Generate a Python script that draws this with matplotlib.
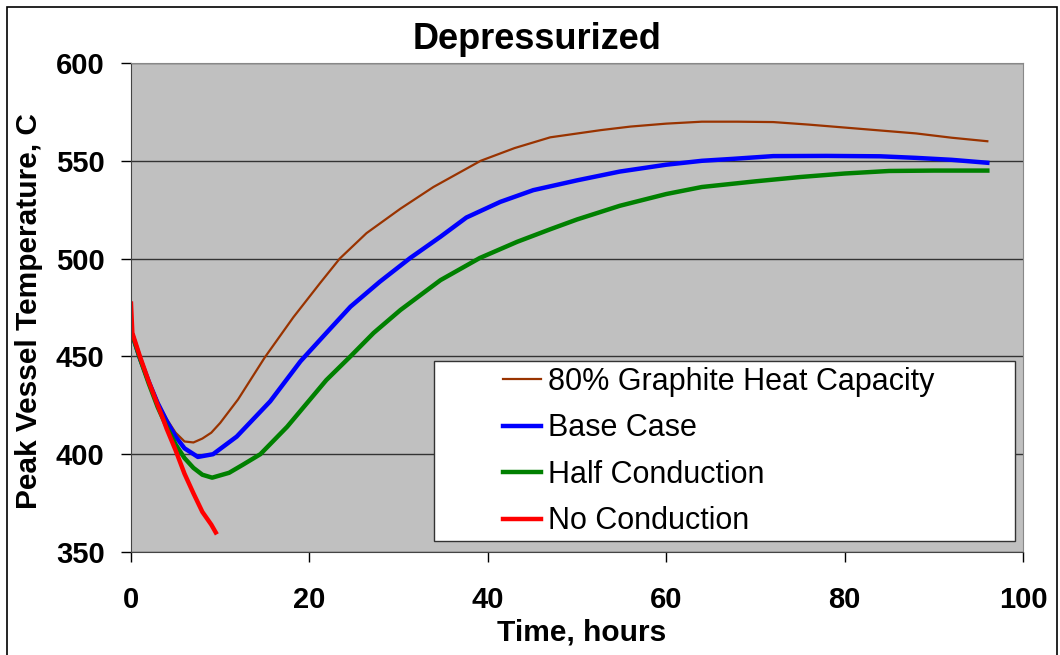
import matplotlib
matplotlib.use("Agg")
import matplotlib.pyplot as plt
from matplotlib.patches import Rectangle

plt.rcParams['font.family'] = ['Liberation Sans', 'DejaVu Sans']

# 80% graphite heat capacity
t_gr = [0, 1, 2, 3, 4, 5, 6, 7, 8, 9, 10, 12, 15, 18.2, 21.2, 23.4, 26.4, 30.2, 33.9, 39.2,
        43, 47, 52.7, 56, 60, 64, 68, 72, 76, 80, 84, 88, 92, 96]
v_gr = [463, 450, 438, 427, 418, 411, 406.5, 406, 408, 411, 416, 428, 449.5, 470, 487.5, 500, 513, 525.5, 536.6, 550,
        556.5, 562, 565.7, 567.5, 569, 570, 570, 569.8, 568.5, 567, 565.5, 564, 561.8, 560]

# base case
t_base = [0, 1, 2, 3, 4, 5, 6, 7.5, 9.2, 11.85, 15.6, 19, 21.8, 24.6, 27.9, 31.3, 34.7,
          37.6, 41.4, 45.1, 50, 54.8, 60, 64, 67.5, 72, 78, 84, 88, 92, 96]
v_base = [463, 449, 437, 426, 417, 409, 403, 398.6, 400, 409, 427, 447.5, 461.5, 475.4, 488.2, 500.3, 511.2,
          521, 529, 535, 540, 544.5, 548, 550, 551, 552.4, 552.5, 552.3, 551.5, 550.5, 549]

# half conduction
t_half = [0, 1, 2, 3, 4, 5, 6, 7, 8, 9.1, 11, 12.5, 14.5, 17.5, 21.9, 24.6, 27.2, 30.2,
          34.7, 39.1, 43.3, 47, 50, 54.8, 60, 64, 70, 75, 80, 85, 90, 96]
v_half = [463, 449, 436, 424, 414, 405, 398, 393, 389.5, 388, 390.5, 394.5, 400, 414, 437.9, 450, 462, 473.7,
          489, 500.3, 508.6, 515, 520, 527, 533, 536.6, 539.5, 541.7, 543.5, 544.8, 545, 545]

# no conduction
t_none = [0, 0.15, 1, 2, 3, 3.6, 4, 5, 6, 6.3, 7, 8, 9, 9.5]
v_none = [477, 462, 450, 437, 425, 418, 413, 402, 390, 387, 380, 370.5, 364, 360]

fig = plt.figure(figsize=(10.6, 6.55), dpi=100)
ax = fig.add_axes([131 / 1060, 1 - 552 / 655, 892 / 1060, 489 / 655])
ax.set_facecolor('#C0C0C0')

ax.plot(t_gr, v_gr, color='#993300', lw=1.6, label='80% Graphite Heat Capacity')
ax.plot(t_base, v_base, color='#0000FF', lw=3.2, label='Base Case')
ax.plot(t_half, v_half, color='#008000', lw=3.2, label='Half Conduction')
ax.plot(t_none, v_none, color='#FF0000', lw=3.2, label='No Conduction')

ax.set_xlim(0, 100)
ax.set_ylim(350, 600)
ax.set_xticks(range(0, 101, 20))
ax.set_yticks(range(350, 601, 50))
ax.yaxis.grid(True, color='#333333', lw=1)
ax.set_axisbelow(True)

for side in ['top', 'right']:
    ax.spines[side].set_color('#888888')
for side in ['left', 'bottom']:
    ax.spines[side].set_color('#444444')

ax.tick_params(axis='x', direction='out', length=7, width=1, pad=17.5, labelsize=21)
ax.tick_params(axis='y', direction='out', length=7, width=1, pad=12, labelsize=21)
for lab in ax.get_xticklabels() + ax.get_yticklabels():
    lab.set_fontweight('bold')

ax.set_xlabel('Time, hours', fontsize=21.5, fontweight='bold')
ax.set_ylabel('Peak Vessel Temperature, C', fontsize=21.5, fontweight='bold')
ax.xaxis.set_label_coords(0.505, -0.136)
ax.yaxis.set_label_coords(-0.099, 0.492)

fig.text(537 / 1060, 1 - 49 / 655, 'Depressurized', ha='center', va='baseline',
         fontsize=26, fontweight='bold')

# legend box
ax.add_patch(Rectangle((0.34, 0.0225), 0.651, 0.368, transform=ax.transAxes,
                       facecolor='white', edgecolor='#333333', lw=1, zorder=5))
leg = ax.legend(loc='center left', bbox_to_anchor=(0.417, 0.2055), frameon=False,
                fontsize=22, borderpad=0, borderaxespad=0, handlelength=1.24,
                handletextpad=0.23, labelspacing=0.54)
leg.set_zorder(6)

# outer border
fig.add_artist(Rectangle((7 / 1060, -5 / 655), 1050 / 1060, 653 / 655, transform=fig.transFigure,
                         fill=False, edgecolor='black', lw=1.2))

fig.savefig('out.png', dpi=100)
